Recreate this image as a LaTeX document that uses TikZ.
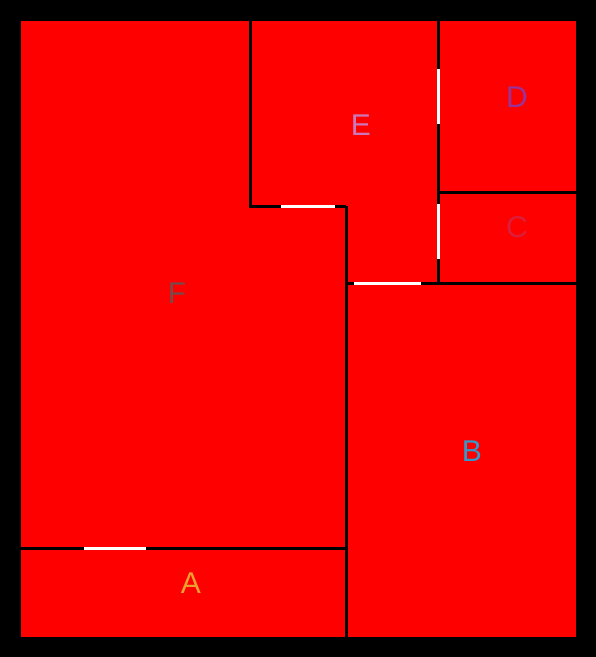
\documentclass[tikz,border=0pt]{standalone}
\usepackage{fontspec}
\setmainfont{Liberation Sans}
\usepackage{xcolor}
\usepackage{tikz}

\definecolor{roomred}{HTML}{FF0000}
\definecolor{colA}{HTML}{F0A030}
\definecolor{colB}{HTML}{3399CC}
\definecolor{colC}{HTML}{DC1E3C}
\definecolor{colD}{HTML}{993399}
\definecolor{colE}{HTML}{CC77BB}
\definecolor{colF}{HTML}{7A4A4A}

\begin{document}
\begin{tikzpicture}[
    x=1pt, y=-1pt,
    room/.style={fill=roomred},
    wall/.style={draw=black, line width=3pt},
    door/.style={draw=white, line width=3pt},
    lbl/.style={font=\fontsize{30}{30}\selectfont, inner sep=0pt}
]
    % Background and frame
    \useasboundingbox (0,0) rectangle (596,657);
    \fill[black] (0,0) rectangle (596,657);

    % Rooms
    \fill[room] (21,21) -- (250,21) -- (250,206) -- (346,206) -- (346,548) -- (21,548) -- cycle; % F
    \fill[room] (250,21) -- (438,21) -- (438,283) -- (346,283) -- (346,206) -- (250,206) -- cycle; % E
    \fill[room] (438,21) rectangle (576,192); % D
    \fill[room] (438,192) rectangle (576,283); % C
    \fill[room] (346,283) rectangle (576,637); % B
    \fill[room] (21,548) rectangle (346,637); % A

    % Walls
    \draw[wall] (250,21) -- (250,206) -- (346,206);
    \draw[wall] (346,206) -- (346,637);
    \draw[wall] (21,548) -- (346,548);
    \draw[wall] (346,283) -- (576,283);
    \draw[wall] (438,21) -- (438,283);
    \draw[wall] (438,192) -- (576,192);

    % Doors
    \draw[door] (84,548) -- (146,548);
    \draw[door] (281,206) -- (335,206);
    \draw[door] (354,283) -- (421,283);
    \draw[door] (438,69) -- (438,124);
    \draw[door] (438,204) -- (438,259);

    % Room labels
    \node[lbl, text=colA] (labA) at (191,583) {A};
    \node[lbl, text=colB] (labB) at (472,451) {B};
    \node[lbl, text=colC] (labC) at (517,227) {C};
    \node[lbl, text=colD] (labD) at (517,97) {D};
    \node[lbl, text=colE] (labE) at (361,125) {E};
    \node[lbl, text=colF] (labF) at (177,293) {F};
\end{tikzpicture}
\end{document}
